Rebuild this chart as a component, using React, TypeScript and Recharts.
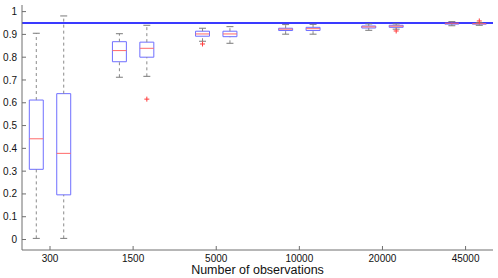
import React, { Component } from 'react';
import { ComposedChart, XAxis, YAxis, ReferenceArea, ReferenceLine, Scatter } from 'recharts';

// group labels (number of observations), one pair of boxes per group
const groupLabels = ['300', '1500', '5000', '10000', '20000', '45000'];
const groupTicks = [1, 2, 3, 4, 5, 6];
const yTicks = [0, 0.1, 0.2, 0.3, 0.4, 0.5, 0.6, 0.7, 0.8, 0.9, 1];

// box positions: two boxes per group, left / right of the tick
const boxPos = [0.835, 1.165, 1.835, 2.165, 2.835, 3.165, 3.835, 4.165, 4.835, 5.165, 5.835, 6.165];

// box statistics
const whiskerLow = [0.005, 0.005, 0.712, 0.716, 0.87, 0.861, 0.901, 0.901, 0.918, 0.923, 0.938, 0.94];
const q1 = [0.308, 0.196, 0.78, 0.8, 0.892, 0.89, 0.917, 0.917, 0.928, 0.931, 0.945, 0.945];
const median = [0.442, 0.378, 0.829, 0.839, 0.902, 0.902, 0.923, 0.925, 0.933, 0.936, 0.949, 0.947];
const q3 = [0.612, 0.64, 0.868, 0.866, 0.914, 0.914, 0.927, 0.931, 0.937, 0.94, 0.952, 0.949];
const whiskerHigh = [0.905, 0.981, 0.903, 0.94, 0.927, 0.934, 0.943, 0.944, 0.946, 0.946, 0.956, 0.952];

// outliers: box index + value
const outlierBox = [3, 4, 9, 11];
const outlierVal = [0.616, 0.858, 0.915, 0.959];

const targetLevel = 0.95;

const BOX_HALF = 0.084;
const CAP_HALF = 0.042;

const outliers = outlierBox.map((b, i) => ({ x: boxPos[b], y: outlierVal[i] }));

const PlusMark = (props: any) => {
	const { cx, cy } = props;
	return (
		<g stroke='#ff3b3b' strokeWidth={1}>
			<line x1={cx - 2.5} y1={cy} x2={cx + 2.5} y2={cy} />
			<line x1={cx} y1={cy - 2.5} x2={cx} y2={cy + 2.5} />
		</g>
	);
};

const axisColor = '#6e6e6e';
const tickFont = { fontSize: 10, fill: '#111', fontFamily: 'Liberation Sans, Arial, sans-serif' };

export class BoxChart extends Component {
	render() {
		return (
			<ComposedChart width={498} height={278} margin={{ top: 5, right: 5, left: 0, bottom: 0 }}>
				<XAxis
					type='number'
					dataKey='x'
					domain={[0.663, 6.33]}
					allowDataOverflow
					ticks={groupTicks}
					tickFormatter={(v: number) => groupLabels[v - 1]}
					interval={0}
					height={28}
					stroke={axisColor}
					tickSize={-4}
					tickMargin={9}
					tick={tickFont}
					label={{ value: 'Number of observations', position: 'insideBottom', offset: 4, style: { fontSize: 12.5, fill: '#111', fontFamily: 'Liberation Sans, Arial, sans-serif' } }}
				/>
				<XAxis
					xAxisId='top'
					orientation='top'
					type='number'
					domain={[0.663, 6.33]}
					allowDataOverflow
					ticks={groupTicks}
					height={0}
					mirror
					tickSize={4}
					tick={false}
					stroke='#8a8a8a'
				/>
				<YAxis
					type='number'
					dataKey='y'
					domain={[-0.046, 1.029]}
					allowDataOverflow
					ticks={yTicks}
					interval={0}
					width={22}
					stroke={axisColor}
					tickSize={-4}
					tickMargin={9}
					tick={tickFont}
				/>
				<YAxis
					yAxisId='right'
					orientation='right'
					type='number'
					domain={[-0.046, 1.029]}
					allowDataOverflow
					ticks={yTicks}
					width={0}
					mirror
					tickSize={4}
					tick={false}
					stroke={axisColor}
				/>
				<ReferenceLine y={targetLevel} stroke='#3a3aff' strokeWidth={2} />
				{boxPos.map((x, i) => (
					<ReferenceLine key={'wl' + i} segment={[{ x, y: whiskerLow[i] }, { x, y: q1[i] }]} stroke='#8a8a8a' strokeDasharray='3 3' />
				))}
				{boxPos.map((x, i) => (
					<ReferenceLine key={'wh' + i} segment={[{ x, y: q3[i] }, { x, y: whiskerHigh[i] }]} stroke='#8a8a8a' strokeDasharray='3 3' />
				))}
				{boxPos.map((x, i) => (
					<ReferenceLine key={'cl' + i} segment={[{ x: x - CAP_HALF, y: whiskerLow[i] }, { x: x + CAP_HALF, y: whiskerLow[i] }]} stroke='#7a7a7a' />
				))}
				{boxPos.map((x, i) => (
					<ReferenceLine key={'ch' + i} segment={[{ x: x - CAP_HALF, y: whiskerHigh[i] }, { x: x + CAP_HALF, y: whiskerHigh[i] }]} stroke='#7a7a7a' />
				))}
				{boxPos.map((x, i) => (
					<ReferenceArea key={'b' + i} x1={x - BOX_HALF} x2={x + BOX_HALF} y1={q1[i]} y2={q3[i]} fill='none' fillOpacity={0} stroke='#6f6fff' strokeWidth={1} />
				))}
				{boxPos.map((x, i) => (
					<ReferenceLine key={'m' + i} segment={[{ x: x - BOX_HALF, y: median[i] }, { x: x + BOX_HALF, y: median[i] }]} stroke='#ff6a6a' />
				))}
				<Scatter data={outliers} dataKey='y' shape={<PlusMark />} isAnimationActive={false} />
			</ComposedChart>
		);
	}
}

export default function App() {
	return (
		<div style={{ position: 'absolute', left: 0, top: 0, background: '#fff' }}>
			<BoxChart />
		</div>
	);
}
